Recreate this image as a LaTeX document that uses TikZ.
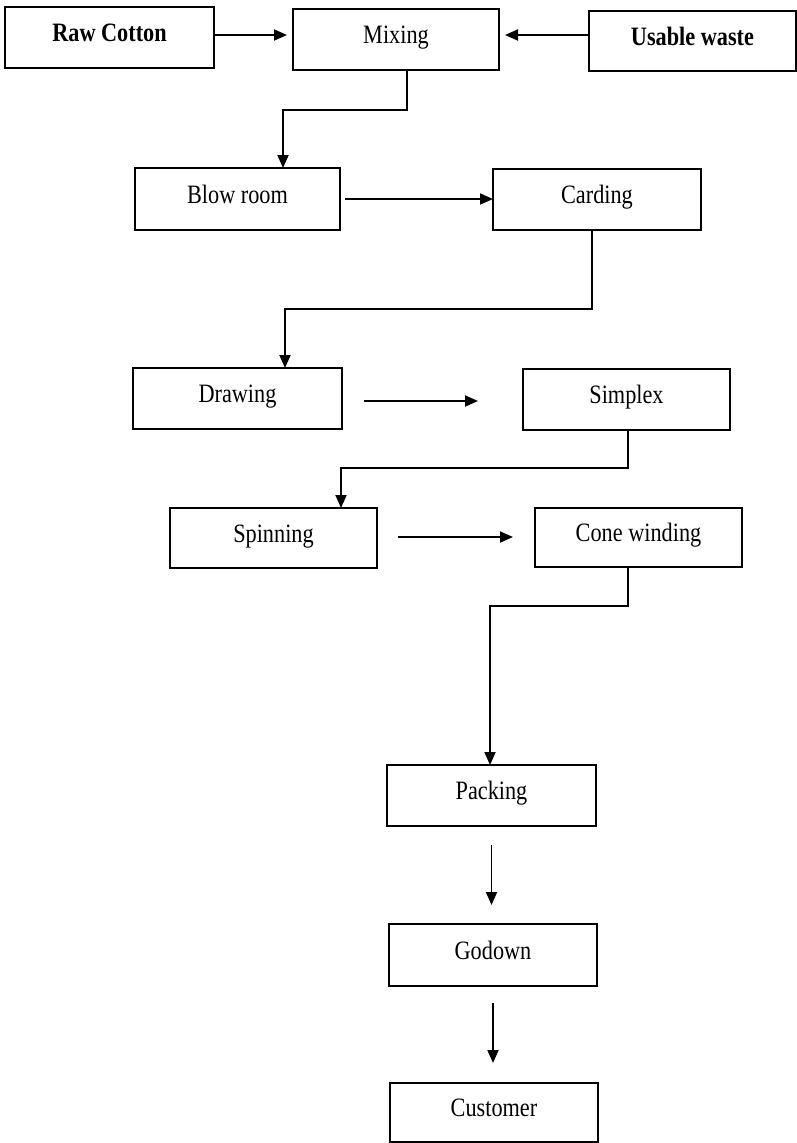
\documentclass[tikz,border=0pt]{standalone}
\usepackage{fontspec}
\setmainfont{Liberation Serif}
\usetikzlibrary{arrows.meta}

% narrow, tall lettering used in every box
\newcommand{\narrowtxt}[1]{\scalebox{0.84}[1]{#1}}

\begin{document}
\begin{tikzpicture}[x=1pt, y=-1pt,
  stage/.style={draw, line width=1.7pt, inner sep=0pt, outer sep=0pt,
    minimum height=61pt, text height=18pt, text depth=10pt,
    font=\fontsize{26.5}{30}\selectfont},
  flow/.style={line width=1.8pt, -{Triangle[length=13pt,width=11pt]}}
]
\useasboundingbox (0,0) rectangle (797,1143);

% process stages
\node[stage, minimum width=209pt] (raw)   at (109.5,37.5) {\narrowtxt{\bfseries Raw Cotton}};
\node[stage, minimum width=206pt] (mix)   at (396,39.5)   {\narrowtxt{Mixing}};
\node[stage, minimum width=207pt, minimum height=60pt] (waste) at (692.5,41) {\narrowtxt{\bfseries Usable waste}};
\node[stage, minimum width=205pt, minimum height=62pt] (blow)  at (237.5,199) {\narrowtxt{Blow room}};
\node[stage, minimum width=208pt] (card)  at (597,199.5)  {\narrowtxt{Carding}};
\node[stage, minimum width=209pt] (draw)  at (237.5,398.5) {\narrowtxt{Drawing}};
\node[stage, minimum width=207pt] (simp)  at (626.5,399.5) {\narrowtxt{Simplex}};
\node[stage, minimum width=207pt, minimum height=60pt] (spin)  at (273.5,538) {\narrowtxt{Spinning}};
\node[stage, minimum width=207pt, minimum height=59pt] (cone)  at (638.5,537.5) {\narrowtxt{Cone winding}};
\node[stage, minimum width=209pt] (pack)  at (491.5,795.5) {\narrowtxt{Packing}};
\node[stage, minimum width=208pt, minimum height=62pt] (god)   at (493,955) {\narrowtxt{Godown}};
\node[stage, minimum width=208pt, minimum height=59pt] (cust)  at (494,1112.5) {\narrowtxt{Customer}};

% inputs into mixing
\draw[flow, shorten >=6pt] ([yshift=2.5pt]raw.east) -- ([yshift=2.5pt]raw.east -| mix.west);
\draw[flow, shorten >=6pt] ([yshift=6pt]waste.west) -- ([yshift=6pt]waste.west -| mix.east);

% mixing to blow room
\draw[flow] ([xshift=11pt]mix.south) -- ++(0,40) -| ([xshift=45.5pt]blow.north);
% blow room to carding
\draw[flow, shorten <=5pt] (blow.east) -- (blow.east -| card.west);
% carding to drawing
\draw[flow] ([xshift=-5pt]card.south) -- ++(0,79) -| ([xshift=47.5pt]draw.north);
% drawing to simplex
\draw[flow, shorten <=22pt, shorten >=45pt] ([yshift=-2.5pt]draw.east) -- ([yshift=-2.5pt]draw.east -| simp.west);
% simplex to spinning
\draw[flow] ([xshift=1.5pt]simp.south) -- ++(0,38) -| ([xshift=67.5pt]spin.north);
% spinning to cone winding
\draw[flow, shorten <=21pt, shorten >=22pt] ([yshift=1pt]spin.east) -- ([yshift=1pt]spin.east -| cone.west);
% cone winding to packing
\draw[flow] ([xshift=-10.5pt]cone.south) -- ++(0,39) -| ([xshift=-1.5pt]pack.north);
% packing to godown to customer
\draw[flow, shorten <=19pt, shorten >=19pt] (pack.south) -- (pack.south |- god.north);
\draw[flow, shorten <=17pt, shorten >=20pt] (god.south) -- (god.south |- cust.north);
\end{tikzpicture}
\end{document}
